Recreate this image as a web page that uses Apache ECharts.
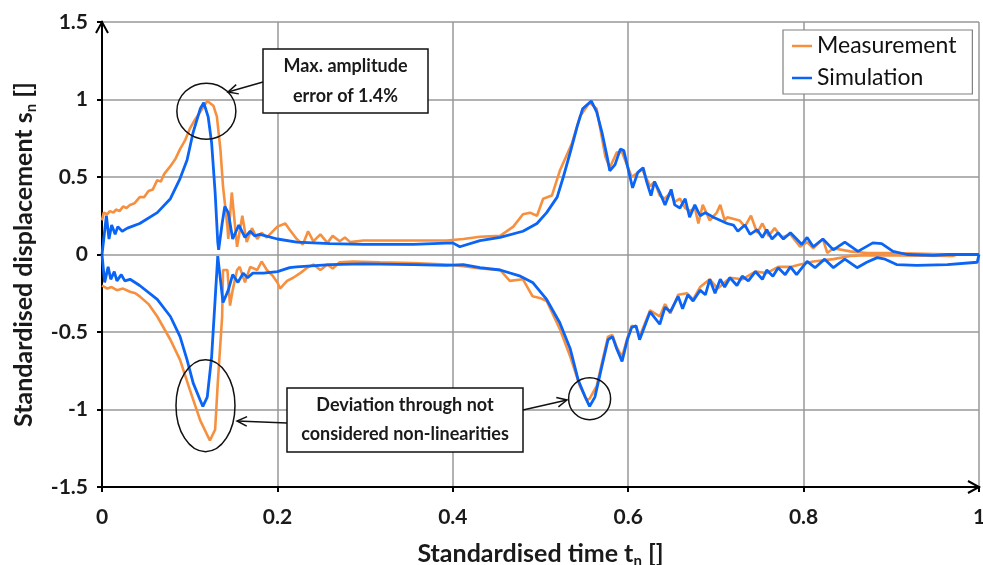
<!DOCTYPE html>
<html>
<head>
<meta charset="utf-8">
<script src="https://cdn.jsdelivr.net/npm/echarts@6/dist/echarts.min.js"></script>
<style>
  html, body { margin: 0; padding: 0; background: #fff; }
  #main { width: 983px; height: 565px; }
</style>
</head>
<body>
<div id="main"></div>
<script>
// axis ticks
const xTicks = [0, 0.2, 0.4, 0.6, 0.8, 1];
const yTicks = [-1.5, -1, -0.5, 0, 0.5, 1, 1.5];

// measurement envelope (upper / lower), [t, s]
const measUpper = [
  [0, 0.22], [0.002, 0.27], [0.006, 0.26], [0.009, 0.28], [0.013, 0.27], [0.016, 0.29],
  [0.02, 0.28], [0.024, 0.31], [0.028, 0.3], [0.032, 0.32], [0.037, 0.33], [0.043, 0.37],
  [0.048, 0.37], [0.053, 0.41], [0.058, 0.42], [0.063, 0.48], [0.067, 0.47], [0.071, 0.52],
  [0.078, 0.57], [0.084, 0.62], [0.089, 0.68], [0.095, 0.74], [0.1, 0.81], [0.106, 0.87],
  [0.112, 0.92], [0.12, 0.99], [0.127, 0.96], [0.131, 0.89], [0.135, 0.68], [0.138, 0.44],
  [0.143, 0.18], [0.144, 0.1], [0.148, 0.40], [0.154, 0.05], [0.16, 0.25], [0.165, 0.08],
  [0.171, 0.17], [0.177, 0.1], [0.182, 0.14], [0.188, 0.11], [0.2, 0.18], [0.209, 0.2],
  [0.214, 0.16], [0.222, 0.1], [0.229, 0.065], [0.235, 0.15], [0.241, 0.085], [0.249, 0.13],
  [0.257, 0.075], [0.263, 0.12], [0.271, 0.085], [0.277, 0.11], [0.283, 0.08], [0.298, 0.09],
  [0.355, 0.09], [0.393, 0.09], [0.412, 0.1], [0.431, 0.115], [0.454, 0.12], [0.469, 0.18],
  [0.48, 0.26], [0.488, 0.27], [0.496, 0.25], [0.503, 0.36], [0.513, 0.38], [0.522, 0.54],
  [0.536, 0.72], [0.545, 0.89], [0.556, 0.98], [0.564, 0.94], [0.574, 0.63], [0.579, 0.56],
  [0.587, 0.66], [0.593, 0.66], [0.604, 0.5], [0.609, 0.52], [0.616, 0.55], [0.625, 0.44],
  [0.63, 0.47], [0.636, 0.38], [0.642, 0.36], [0.648, 0.4], [0.653, 0.34], [0.659, 0.36],
  [0.665, 0.3], [0.67, 0.28], [0.676, 0.3], [0.68, 0.2], [0.685, 0.32], [0.693, 0.22],
  [0.701, 0.27], [0.705, 0.32], [0.71, 0.22], [0.713, 0.24], [0.727, 0.22], [0.733, 0.18],
  [0.74, 0.25], [0.747, 0.14], [0.753, 0.2], [0.76, 0.12], [0.767, 0.17], [0.775, 0.11],
  [0.785, 0.13], [0.796, 0.05], [0.804, 0.08], [0.811, 0.04], [0.822, 0.1], [0.827, 0.01],
  [0.834, 0.04], [0.853, 0.02], [0.872, 0.01], [0.902, 0.01], [0.975, 0]
];
const measLower = [
  [0, -0.2], [0.001, -0.21], [0.006, -0.22], [0.011, -0.21], [0.017, -0.23], [0.024, -0.22],
  [0.032, -0.24], [0.038, -0.25], [0.043, -0.27], [0.053, -0.32], [0.063, -0.4], [0.078, -0.55],
  [0.089, -0.68], [0.1, -0.87], [0.112, -1.07], [0.123, -1.2], [0.129, -1.13], [0.132, -0.83],
  [0.137, -0.4], [0.138, -0.1], [0.143, -0.1], [0.146, -0.33], [0.149, -0.23], [0.154, -0.1],
  [0.157, -0.08], [0.163, -0.18], [0.169, -0.08], [0.177, -0.1], [0.182, -0.045], [0.188, -0.1],
  [0.195, -0.14], [0.2, -0.18], [0.203, -0.22], [0.211, -0.17], [0.218, -0.15], [0.226, -0.12],
  [0.234, -0.085], [0.241, -0.065], [0.249, -0.1], [0.257, -0.065], [0.263, -0.09], [0.271, -0.05],
  [0.286, -0.045], [0.317, -0.05], [0.355, -0.055], [0.393, -0.065], [0.412, -0.075], [0.431, -0.09],
  [0.454, -0.1], [0.465, -0.17], [0.48, -0.16], [0.491, -0.27], [0.499, -0.28], [0.507, -0.3],
  [0.522, -0.48], [0.534, -0.66], [0.545, -0.85], [0.553, -0.94], [0.556, -0.93], [0.564, -0.85],
  [0.57, -0.7], [0.577, -0.53], [0.582, -0.52], [0.587, -0.6], [0.593, -0.66], [0.599, -0.54],
  [0.604, -0.46], [0.609, -0.47], [0.613, -0.53], [0.625, -0.36], [0.636, -0.4], [0.642, -0.32],
  [0.648, -0.38], [0.657, -0.26], [0.667, -0.25], [0.674, -0.29], [0.682, -0.21], [0.693, -0.16],
  [0.702, -0.22], [0.716, -0.15], [0.73, -0.16], [0.745, -0.11], [0.758, -0.12], [0.771, -0.08],
  [0.785, -0.08], [0.796, -0.065], [0.811, -0.045], [0.834, -0.03], [0.853, -0.01], [0.872, -0.005],
  [0.97, -0.01], [0.975, 0]
];

// simulation envelope (upper / lower), [t, s]
const simUpper = [
  [0, 0], [0.005, 0.25], [0.008, 0.1], [0.011, 0.19], [0.015, 0.13], [0.018, 0.18],
  [0.023, 0.15], [0.029, 0.17], [0.043, 0.2], [0.063, 0.27], [0.078, 0.36], [0.089, 0.49],
  [0.097, 0.61], [0.104, 0.79], [0.112, 0.94], [0.116, 0.98], [0.121, 0.89], [0.125, 0.72],
  [0.129, 0.40], [0.132, 0.08], [0.133, 0.03], [0.137, 0.2], [0.14, 0.31], [0.144, 0.27],
  [0.149, 0.1], [0.156, 0.19], [0.163, 0.11], [0.169, 0.15], [0.174, 0.12], [0.18, 0.13],
  [0.2, 0.1], [0.222, 0.08], [0.26, 0.07], [0.298, 0.065], [0.355, 0.065], [0.4, 0.075],
  [0.408, 0.05], [0.431, 0.09], [0.454, 0.11], [0.48, 0.15], [0.496, 0.2], [0.507, 0.27],
  [0.519, 0.37], [0.526, 0.5], [0.534, 0.66], [0.542, 0.83], [0.548, 0.94], [0.558, 0.99],
  [0.564, 0.92], [0.57, 0.79], [0.576, 0.63], [0.579, 0.54], [0.585, 0.58], [0.591, 0.68],
  [0.595, 0.67], [0.6, 0.55], [0.605, 0.43], [0.611, 0.53], [0.617, 0.56], [0.621, 0.47],
  [0.626, 0.38], [0.63, 0.47], [0.636, 0.4], [0.642, 0.32], [0.649, 0.42], [0.653, 0.32],
  [0.659, 0.3], [0.665, 0.36], [0.67, 0.24], [0.676, 0.32], [0.682, 0.25], [0.688, 0.27],
  [0.697, 0.24], [0.713, 0.2], [0.72, 0.19], [0.725, 0.15], [0.733, 0.19], [0.739, 0.13],
  [0.747, 0.16], [0.753, 0.11], [0.758, 0.16], [0.764, 0.1], [0.771, 0.14], [0.777, 0.1],
  [0.785, 0.14], [0.792, 0.1], [0.798, 0.065], [0.804, 0.11], [0.811, 0.05], [0.822, 0.1],
  [0.834, 0.03], [0.847, 0.08], [0.862, 0.02], [0.879, 0.075], [0.889, 0.07], [0.902, 0.02],
  [0.918, 0], [0.948, -0.005], [0.964, 0], [1, 0]
];
const simLower = [
  [0, 0], [0.003, -0.18], [0.007, -0.08], [0.01, -0.16], [0.014, -0.11], [0.017, -0.17],
  [0.022, -0.13], [0.026, -0.17], [0.032, -0.16], [0.043, -0.2], [0.063, -0.29], [0.078, -0.4],
  [0.089, -0.53], [0.097, -0.68], [0.104, -0.83], [0.112, -0.94], [0.115, -0.98], [0.12, -0.92],
  [0.125, -0.66], [0.129, -0.29], [0.132, -0.01], [0.133, 0], [0.138, -0.31], [0.144, -0.23],
  [0.149, -0.13], [0.155, -0.18], [0.161, -0.12], [0.166, -0.15], [0.172, -0.12], [0.184, -0.12],
  [0.2, -0.11], [0.214, -0.085], [0.222, -0.08], [0.26, -0.065], [0.298, -0.06], [0.355, -0.065],
  [0.393, -0.07], [0.412, -0.065], [0.431, -0.085], [0.454, -0.1], [0.477, -0.14], [0.491, -0.18],
  [0.507, -0.29], [0.522, -0.44], [0.534, -0.61], [0.543, -0.81], [0.551, -0.92], [0.556, -0.98],
  [0.562, -0.92], [0.57, -0.72], [0.577, -0.55], [0.582, -0.53], [0.587, -0.61], [0.593, -0.69],
  [0.599, -0.55], [0.604, -0.47], [0.609, -0.46], [0.613, -0.55], [0.625, -0.37], [0.636, -0.45],
  [0.642, -0.34], [0.648, -0.37], [0.657, -0.27], [0.662, -0.35], [0.668, -0.26], [0.674, -0.3],
  [0.682, -0.23], [0.688, -0.26], [0.693, -0.16], [0.699, -0.25], [0.705, -0.16], [0.71, -0.21],
  [0.716, -0.15], [0.724, -0.2], [0.73, -0.14], [0.737, -0.17], [0.745, -0.11], [0.753, -0.16],
  [0.758, -0.1], [0.765, -0.14], [0.771, -0.085], [0.779, -0.13], [0.785, -0.08], [0.792, -0.13],
  [0.804, -0.045], [0.813, -0.085], [0.824, -0.03], [0.834, -0.085], [0.847, -0.03], [0.861, -0.085],
  [0.872, -0.05], [0.884, -0.02], [0.893, -0.03], [0.906, -0.065], [0.929, -0.07], [0.964, -0.065],
  [0.998, -0.05], [1, 0]
];

const ORANGE = '#F6903F';
const BLUE = '#0A64F5';
const FONT = 'Lato';

const chart = echarts.init(document.getElementById('main'));

function lineSeries(name, data, color, width) {
  return {
    name: name, type: 'line', data: data, symbol: 'none', smooth: false,
    lineStyle: { color: color, width: width }, itemStyle: { color: color }
  };
}

const subStyle = { fontFamily: FONT, fontSize: 15, fontWeight: 'bold', color: '#1a1a1a', verticalAlign: 'bottom', lineHeight: 17 };

chart.setOption({
  animation: false,
  grid: { left: 102, right: 4, top: 22, bottom: 78, containLabel: false, outerBoundsMode: 'none' },
  legend: {
    data: ['Measurement', 'Simulation'],
    orient: 'vertical', left: 783, top: 30,
    icon: 'rect', itemWidth: 20, itemHeight: 2.5, itemGap: 6,
    padding: [3, 16, 3, 9],
    backgroundColor: '#fff', borderColor: '#808080', borderWidth: 1.2, borderRadius: 0,
    textStyle: { fontFamily: FONT, fontSize: 23, color: '#111', lineHeight: 26 }
  },
  xAxis: {
    type: 'value', min: 0, max: 1, interval: 0.2,
    name: 'Standardised time t{sub|n} []', nameLocation: 'middle', nameGap: 52,
    nameTextStyle: {
      fontFamily: FONT, fontSize: 25, fontWeight: 'bold', color: '#1a1a1a', lineHeight: 30,
      rich: { sub: subStyle }
    },
    axisLine: { onZero: false, lineStyle: { color: '#000', width: 2 } },
    axisTick: { show: true, length: 5, lineStyle: { color: '#000', width: 2 } },
    axisLabel: {
      fontFamily: FONT, fontSize: 21, fontWeight: 'bold', color: '#1a1a1a', margin: 20,
      formatter: v => String(xTicks.find(t => Math.abs(t - v) < 1e-9) ?? v)
    },
    splitLine: { show: true, lineStyle: { color: '#999', width: 1.5 } }
  },
  yAxis: {
    type: 'value', min: -1.5, max: 1.5, interval: 0.5,
    name: 'Standardised displacement s{sub|n} []', nameLocation: 'middle', nameGap: 63,
    nameTextStyle: {
      fontFamily: FONT, fontSize: 25, fontWeight: 'bold', color: '#1a1a1a', lineHeight: 30,
      rich: { sub: subStyle }
    },
    axisLine: { onZero: false, lineStyle: { color: '#000', width: 2 } },
    axisTick: { show: true, length: 5, lineStyle: { color: '#000', width: 2 } },
    axisLabel: {
      fontFamily: FONT, fontSize: 21, fontWeight: 'bold', color: '#1a1a1a', margin: 14,
      formatter: v => String(yTicks.find(t => Math.abs(t - v) < 1e-9) ?? v)
    },
    splitLine: { show: true, lineStyle: { color: '#999', width: 1.5 } }
  },
  series: [
    lineSeries('Measurement', measUpper, ORANGE, 2.6),
    lineSeries('Measurement', measLower, ORANGE, 2.6),
    lineSeries('Simulation', simUpper, BLUE, 2.8),
    lineSeries('Simulation', simLower, BLUE, 2.8)
  ]
});

// annotations, placed from data coordinates
const toPx = p => chart.convertToPixel({ gridIndex: 0 }, p);

function arrow(from, to) {
  const ang = Math.atan2(to[1] - from[1], to[0] - from[0]);
  const L = 11, a = 0.45;
  const p1 = [to[0] - L * Math.cos(ang - a), to[1] - L * Math.sin(ang - a)];
  const p2 = [to[0] - L * Math.cos(ang + a), to[1] - L * Math.sin(ang + a)];
  return [
    { type: 'line', shape: { x1: from[0], y1: from[1], x2: to[0], y2: to[1] }, style: { stroke: '#111', lineWidth: 1.5 }, z: 100 },
    { type: 'polyline', shape: { points: [p1, to, p2] }, style: { stroke: '#111', lineWidth: 1.5, fill: null }, z: 100 }
  ];
}

function ellipse(center, rx, ry) {
  const c = toPx(center);
  return { type: 'ellipse', shape: { cx: c[0], cy: c[1], rx: rx, ry: ry }, style: { stroke: '#111', lineWidth: 1.5, fill: null }, z: 100 };
}

function box(x, y, w, h, lines, lineGap) {
  const els = [{ type: 'rect', shape: { x: x, y: y, width: w, height: h }, style: { fill: '#fff', stroke: '#111', lineWidth: 1.5 }, z: 100 }];
  lines.forEach((t, i) => {
    els.push({
      type: 'text', x: x + w / 2, y: y + h / 2 + (i - (lines.length - 1) / 2) * lineGap, z: 101,
      style: { text: t, fontFamily: FONT, fontSize: 18, fontWeight: 'bold', fill: '#1a1a1a', align: 'center', verticalAlign: 'middle' }
    });
  });
  return els;
}

const yTip = toPx([0, 1.5]);
const xTip = toPx([1, -1.5]);

const graphic = [].concat(
  ellipse([0.119, 0.925], 29.5, 28),
  ellipse([0.118, -0.975], 29.5, 46),
  ellipse([0.556, -0.93], 21, 21),
  box(263, 49, 165, 64, ['Max. amplitude', 'error of 1.4%'], 30),
  box(287, 388, 236, 64, ['Deviation through not', 'considered non-linearities'], 29),
  arrow([263, 82], [228, 92]),
  arrow([287, 423], [237, 421]),
  arrow([523, 410], [567, 400]),
  [
    { type: 'polyline', shape: { points: [[yTip[0] - 6, yTip[1] + 11], yTip, [yTip[0] + 6, yTip[1] + 11]] }, style: { stroke: '#000', lineWidth: 2, fill: null }, z: 100 },
    { type: 'polyline', shape: { points: [[xTip[0] - 11, xTip[1] - 6], xTip, [xTip[0] - 11, xTip[1] + 6]] }, style: { stroke: '#000', lineWidth: 2, fill: null }, z: 100 }
  ]
);

chart.setOption({ graphic: graphic });
</script>
</body>
</html>
